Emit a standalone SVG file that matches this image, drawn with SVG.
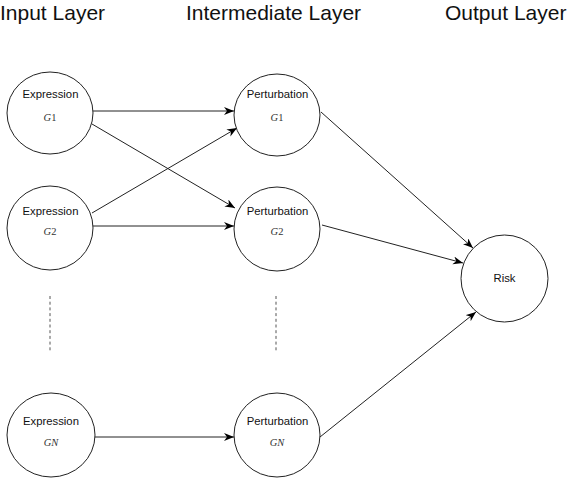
<svg xmlns="http://www.w3.org/2000/svg" width="574" height="482" viewBox="0 0 574 482">
<style>
.node{fill:#fff;stroke:#222;stroke-width:1}
.lbl{font-family:"Liberation Sans",Arial,sans-serif;font-size:11.3px;fill:#111;text-anchor:middle}
.math{font-family:"Liberation Serif","Times New Roman",serif;font-size:10.5px;fill:#333;text-anchor:middle}
.title{font-family:"Liberation Sans",Arial,sans-serif;font-size:21px;fill:#111}
.edge{stroke:#222;stroke-width:1;fill:none;marker-end:url(#arr)}
.dash{stroke:#555;stroke-width:1;stroke-dasharray:3,2.7;fill:none}
</style>
<defs>
<marker id="arr" markerUnits="userSpaceOnUse" markerWidth="11" markerHeight="9" refX="10" refY="4" orient="auto">
<path d="M0,0 L10,4 L0,8 L3,4 z" fill="#000"/>
</marker>
</defs>
<rect width="574" height="482" fill="#fff"/>
<g id="titles">
<text class="title" x="0" y="20">Input Layer</text>
<text class="title" x="186" y="20">Intermediate Layer</text>
<text class="title" x="445" y="20">Output Layer</text>
</g>
<g id="connectors">
<line class="edge" x1="93" y1="111" x2="234" y2="111"/>
<line class="edge" x1="92" y1="124" x2="235" y2="208"/>
<line class="edge" x1="92" y1="213" x2="237" y2="128"/>
<line class="edge" x1="93" y1="226" x2="234" y2="226"/>
<line class="edge" x1="95" y1="437" x2="234" y2="437"/>
<line class="edge" x1="321" y1="112" x2="473" y2="248"/>
<line class="edge" x1="322" y1="225" x2="463" y2="263"/>
<line class="edge" x1="320" y1="437" x2="476" y2="312"/>
<line class="dash" x1="50" y1="296" x2="50" y2="351"/>
<line class="dash" x1="276" y1="296" x2="276" y2="351"/>
</g>
<g id="expr1">
<ellipse class="node" cx="50" cy="113" rx="43" ry="41"/>
<text class="lbl" x="50.5" y="98">Expression</text>
<text class="math" x="50" y="121"><tspan font-style="italic">G</tspan>1</text>
</g>
<g id="expr2">
<ellipse class="node" cx="50" cy="228" rx="43" ry="42"/>
<text class="lbl" x="50.5" y="215">Expression</text>
<text class="math" x="50" y="235"><tspan font-style="italic">G</tspan>2</text>
</g>
<g id="exprN">
<ellipse class="node" cx="51" cy="435" rx="44" ry="42"/>
<text class="lbl" x="51" y="425">Expression</text>
<text class="math" x="51" y="446" font-style="italic">GN</text>
</g>
<g id="pert1">
<ellipse class="node" cx="277" cy="115" rx="43" ry="41"/>
<text class="lbl" x="277.5" y="98">Perturbation</text>
<text class="math" x="277" y="121"><tspan font-style="italic">G</tspan>1</text>
</g>
<g id="pert2">
<ellipse class="node" cx="277" cy="229" rx="43" ry="42"/>
<text class="lbl" x="277.5" y="215">Perturbation</text>
<text class="math" x="277" y="235"><tspan font-style="italic">G</tspan>2</text>
</g>
<g id="pertN">
<ellipse class="node" cx="277" cy="435" rx="43" ry="42"/>
<text class="lbl" x="277.5" y="425">Perturbation</text>
<text class="math" x="277" y="446" font-style="italic">GN</text>
</g>
<g id="risk">
<ellipse class="node" cx="504.5" cy="278.5" rx="43.5" ry="43.5"/>
<text class="lbl" x="504.5" y="282">Risk</text>
</g>
</svg>
